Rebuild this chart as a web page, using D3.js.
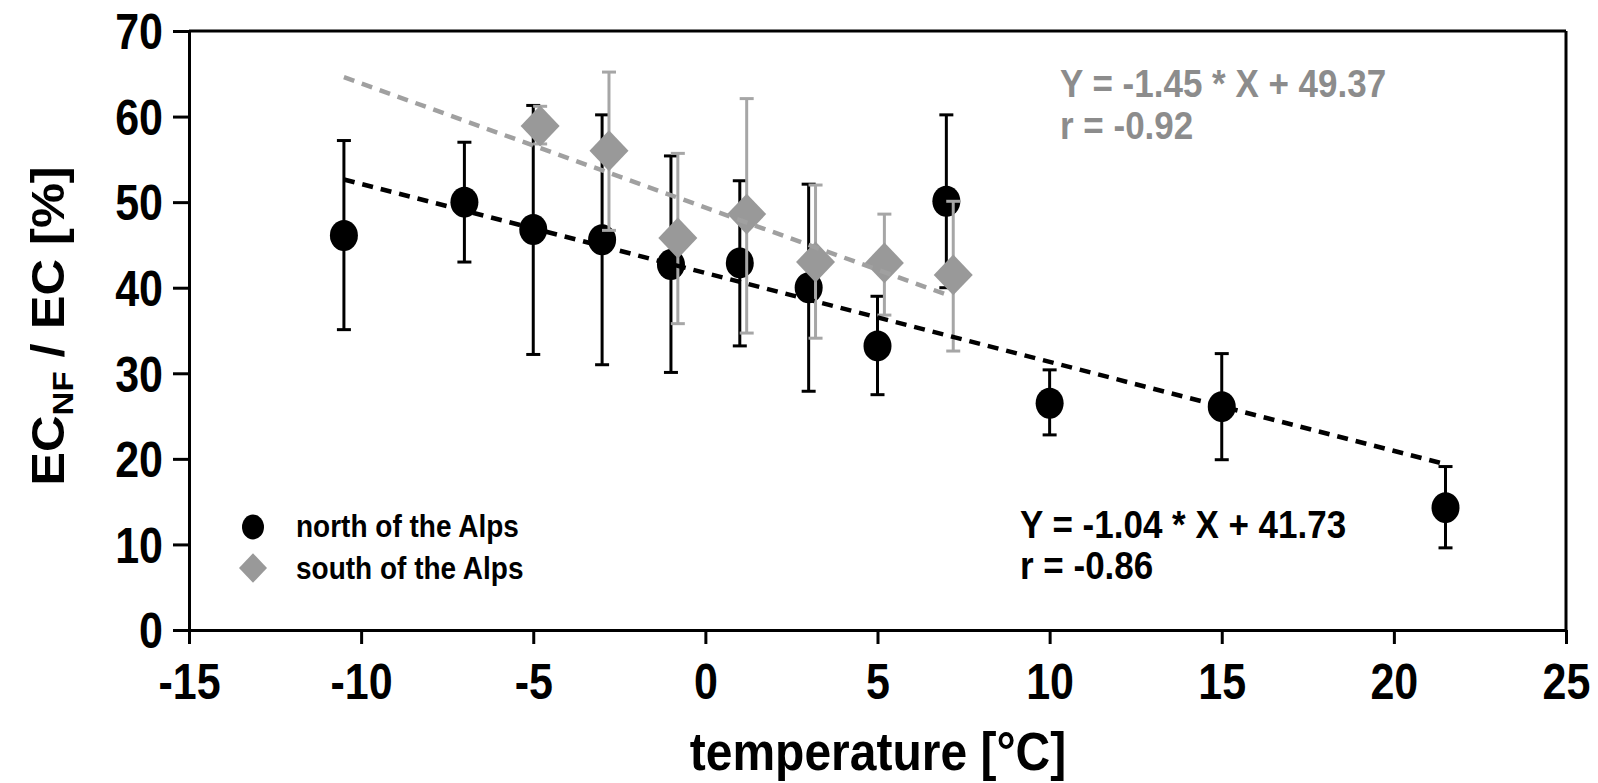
<!DOCTYPE html>
<html>
<head>
<meta charset="utf-8">
<script src="https://cdn.jsdelivr.net/npm/d3@7"></script>
<style>
  html, body { margin: 0; padding: 0; background: #fff; }
  svg { display: block; }
  text { font-family: "Liberation Sans", Arial, sans-serif; font-weight: bold; }
</style>
</head>
<body>
<svg id="chart" width="1598" height="783"></svg>
<script>
// ---- data ----
const northTemp  = [-10.5, -7, -5, -3, -1, 1, 3, 5, 7, 10, 15, 21.5];
const northMean  = [46.1, 50.0, 46.8, 45.6, 42.7, 42.9, 40.0, 33.2, 50.1, 26.5, 26.1, 14.3];
const northUpper = [57.2, 57.0, 61.3, 60.2, 55.4, 52.5, 52.1, 39.0, 60.2, 30.4, 32.3, 19.1];
const northLower = [35.1, 43.0, 32.2, 31.0, 30.1, 33.2, 27.9, 27.5, 40.0, 22.8, 19.9, 9.6];

const southTemp  = [-4.8, -2.8, -0.8, 1.2, 3.2, 5.2, 7.2];
const southMean  = [58.9, 56.0, 45.8, 48.6, 43.0, 42.9, 41.5];
const southUpper = [61.2, 65.2, 55.7, 62.1, 52.0, 48.6, 50.1];
const southLower = [56.8, 46.7, 35.8, 34.7, 34.1, 36.8, 32.6];

// fitted lines (end points)
const northFitX = [-10.5, 21.5];
const northFitY = [52.65, 19.37];
const southFitX = [-10.5, 7.0];
const southFitY = [64.6, 39.2];

const xTicks = [-15, -10, -5, 0, 5, 10, 15, 20, 25];
const yTicks = [0, 10, 20, 30, 40, 50, 60, 70];

const northEq = ["Y = -1.04 * X + 41.73", "r = -0.86"];
const southEq = ["Y = -1.45 * X + 49.37", "r = -0.92"];
const legendLabels = ["north of the Alps", "south of the Alps"];

// ---- drawing ----
const svg = d3.select("#chart");
const SY = 1.1;   // vertical stretch of the original picture
const SYT = 1.15; // stretch of tick labels

const x = d3.scaleLinear().domain([-15, 25]).range([189, 1566]);
const y = d3.scaleLinear().domain([0, 70]).range([630, 31]);

const BLACK = "#000";
const GREY = "#999999";
const GREY_BAR = "#a6a6a6";
const GREY_TEXT = "#8c8c8c";

// frame (top & right)
svg.append("line").attr("x1", x(-15)).attr("x2", x(25)).attr("y1", y(70)).attr("y2", y(70))
  .attr("stroke", BLACK).attr("stroke-width", 3);
svg.append("line").attr("x1", x(25)).attr("x2", x(25)).attr("y1", y(70)).attr("y2", y(0))
  .attr("stroke", BLACK).attr("stroke-width", 3);

// axes
const fmt = d => String(d);
const gx = svg.append("g").attr("transform", `translate(0,${y(0)})`)
  .call(d3.axisBottom(x).tickValues(xTicks).tickFormat(fmt).tickSize(14).tickSizeOuter(0));
const gy = svg.append("g").attr("transform", `translate(${x(-15)},0)`)
  .call(d3.axisLeft(y).tickValues(yTicks).tickFormat(fmt).tickSize(16).tickSizeOuter(0));

[gx, gy].forEach(g => {
  g.select(".domain").attr("stroke", BLACK).attr("stroke-width", 3);
  g.selectAll(".tick line").attr("stroke", BLACK).attr("stroke-width", 3);
  g.selectAll(".tick text").attr("fill", BLACK).style("font-size", "43px")
    .style("font-family", '"Liberation Sans", Arial, sans-serif').style("font-weight", "bold");
});
gx.selectAll(".tick text").attr("y", 34 / SYT).attr("dy", "0.71em").attr("transform", `scale(1,${SYT})`);
gy.selectAll(".tick text").attr("x", -26).attr("dy", "0.36em").attr("transform", `scale(1,${SYT})`);

// error bars helper
function errorBars(temps, lo, hi, color) {
  const g = svg.append("g").attr("stroke", color).attr("stroke-width", 3).attr("fill", "none");
  temps.forEach((t, i) => {
    const cx = x(t);
    g.append("line").attr("x1", cx).attr("x2", cx).attr("y1", y(hi[i])).attr("y2", y(lo[i]));
    g.append("line").attr("x1", cx - 7).attr("x2", cx + 7).attr("y1", y(hi[i])).attr("y2", y(hi[i]));
    g.append("line").attr("x1", cx - 7).attr("x2", cx + 7).attr("y1", y(lo[i])).attr("y2", y(lo[i]));
  });
}

// north
errorBars(northTemp, northLower, northUpper, BLACK);
svg.append("g").selectAll("ellipse").data(northTemp).join("ellipse")
  .attr("cx", d => x(d)).attr("cy", (d, i) => y(northMean[i]))
  .attr("rx", 14).attr("ry", 15.5).attr("fill", BLACK);

// south
errorBars(southTemp, southLower, southUpper, GREY_BAR);
const diamond = (cx, cy, r) => `M${cx},${cy - r * 1.05}L${cx + r},${cy}L${cx},${cy + r * 1.05}L${cx - r},${cy}Z`;
svg.append("g").selectAll("path").data(southTemp).join("path")
  .attr("d", (d, i) => diamond(x(d), y(southMean[i]), 19.5)).attr("fill", GREY);

// fit lines
const line = d3.line().x(d => x(d[0])).y(d => y(d[1]));
svg.append("path").datum(southFitX.map((v, i) => [v, southFitY[i]])).attr("d", line)
  .attr("stroke", "#a0a0a0").attr("stroke-width", 4.5).attr("stroke-dasharray", "11,8").attr("fill", "none");
svg.append("path").datum(northFitX.map((v, i) => [v, northFitY[i]])).attr("d", line)
  .attr("stroke", BLACK).attr("stroke-width", 4.5).attr("stroke-dasharray", "11,8").attr("fill", "none");

// equations
function textBlock(lines, tx, ty, color, size, gap) {
  lines.forEach((s, i) => {
    svg.append("text").attr("transform", `translate(${tx},${ty + i * gap}) scale(1,${SY})`)
      .attr("fill", color).style("font-size", size + "px").text(s);
  });
}
textBlock(southEq, 1060, 97, GREY_TEXT, 35, 42);
textBlock(northEq, 1020, 538, BLACK, 35, 41);

// legend
svg.append("ellipse").attr("cx", 253).attr("cy", 527).attr("rx", 11).attr("ry", 12.5).attr("fill", BLACK);
svg.append("path").attr("d", diamond(253, 568, 14)).attr("fill", GREY);
textBlock(legendLabels, 296, 537, BLACK, 28, 42);

// axis titles
svg.append("text").attr("transform", `translate(878,770) scale(1,${SY})`)
  .attr("text-anchor", "middle").style("font-size", "48px").text("temperature [°C]");

const yl = svg.append("text").attr("transform", `translate(64,326) rotate(-90) scale(${SY},1)`)
  .attr("text-anchor", "middle").style("font-size", "46px");
yl.append("tspan").text("EC");
yl.append("tspan").attr("dy", 9).style("font-size", "30px").text("NF");
yl.append("tspan").attr("dy", -9).text(" / EC [%]");
</script>
</body>
</html>
